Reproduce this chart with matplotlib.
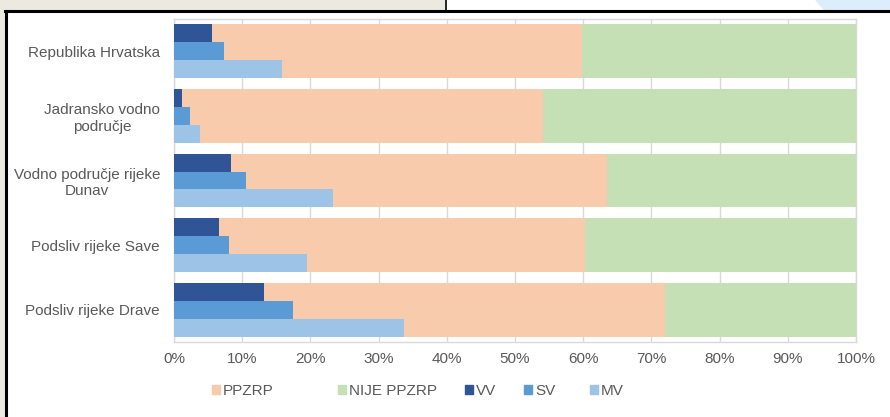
import numpy as np
import matplotlib
matplotlib.use("Agg")
import matplotlib.pyplot as plt
from matplotlib.patches import Rectangle, Ellipse, Patch

plt.rcParams['font.family'] = ['Liberation Sans', 'DejaVu Sans']

# Data (percent)
regions = ['Republika Hrvatska', 'Jadransko vodno\npodručje',
           'Vodno područje rijeke\nDunav', 'Podsliv rijeke Save',
           'Podsliv rijeke Drave']
ppzrp = [59.8, 54.1, 63.5, 60.3, 72.0]
nije_ppzrp = [100 - v for v in ppzrp]
vv = [5.6, 1.2, 8.3, 6.6, 13.2]
sv = [7.4, 2.3, 10.6, 8.0, 17.4]
mv = [15.9, 3.8, 23.3, 19.5, 33.7]
xticks = np.arange(0, 101, 10)

c_ppzrp = '#F8CBAD'
c_nije = '#C5E0B4'
c_vv = '#2F5597'
c_sv = '#5B9BD5'
c_mv = '#9DC3E6'
txt = '#595959'

W, H = 890, 417
fig = plt.figure(figsize=(W / 100, H / 100), dpi=100)
fig.patch.set_facecolor('white')

# screenshot decorations around the chart
fig.patches.append(Rectangle((0, 1 - 10 / H), 445 / W, 10 / H, transform=fig.transFigure,
                             facecolor='#ECE9E0', edgecolor='none', zorder=0))
fig.patches.append(Rectangle((0, 0), 5 / W, 1, transform=fig.transFigure,
                             facecolor='#ECE9E0', edgecolor='none', zorder=0))
blob = Ellipse((940 / W, 1 + 100 / H), 2 * 160 / W, 2 * 160 / H, transform=fig.transFigure,
               facecolor='#DCEEFB', edgecolor='none', zorder=0)
fig.patches.append(blob)
clip = Rectangle((446 / W, 1 - 10 / H), 444 / W, 10 / H, transform=fig.transFigure)
blob.set_clip_path(clip)
fig.add_artist(plt.Line2D([5 / W, 1], [1 - 11 / H, 1 - 11 / H], transform=fig.transFigure,
                          color='black', lw=2.2))
fig.add_artist(plt.Line2D([6 / W, 6 / W], [0, 1 - 11 / H], transform=fig.transFigure,
                          color='black', lw=2.2))
fig.add_artist(plt.Line2D([445.5 / W, 445.5 / W], [1 - 10 / H, 1], transform=fig.transFigure,
                          color='black', lw=1.2))

ax = fig.add_axes([174 / W, 1 - 342 / H, (856 - 174) / W, (342 - 19) / H])

y = np.arange(len(regions))
h = 0.83
sub = h / 3

ax.barh(y, ppzrp, height=h, color=c_ppzrp, label='PPZRP', zorder=2)
ax.barh(y, nije_ppzrp, left=ppzrp, height=h, color=c_nije, label='NIJE PPZRP', zorder=2)
ax.barh(y - sub, vv, height=sub, color=c_vv, label='VV', zorder=3)
ax.barh(y, sv, height=sub, color=c_sv, label='SV', zorder=3)
ax.barh(y + sub, mv, height=sub, color=c_mv, label='MV', zorder=3)

ax.set_xlim(0, 100)
ax.set_ylim(len(regions) - 0.5, -0.5)
ax.set_xticks(xticks)
ax.set_xticklabels([f'{v}%' for v in xticks])
ax.set_yticks(y)
ax.set_yticklabels(regions)
for lab in ax.get_yticklabels():
    lab.set_multialignment('center')

ax.tick_params(axis='both', length=0, labelsize=11, colors=txt)
ax.tick_params(axis='x', pad=7)
ax.tick_params(axis='y', pad=10)
ax.grid(axis='x', color='#D9D9D9', lw=1, zorder=0)
ax.set_axisbelow(True)
for s in ax.spines.values():
    s.set_color('#D9D9D9')
    s.set_linewidth(1)

# legend entries placed one by one, like the Excel legend
colors = [c_ppzrp, c_nije, c_vv, c_sv, c_mv]
labels = ['PPZRP', 'NIJE PPZRP', 'VV', 'SV', 'MV']
leg_x = [204, 330, 457, 516, 582]
for c, l, lx in zip(colors, labels, leg_x):
    fig.legend([Patch(color=c)], [l], loc='center left', bbox_to_anchor=(lx / W, 1 - 391 / H),
               frameon=False, fontsize=11, handlelength=0.55, handleheight=0.55,
               handletextpad=0.2, borderpad=0, labelcolor=txt)

fig.savefig('out.png', dpi=100)
